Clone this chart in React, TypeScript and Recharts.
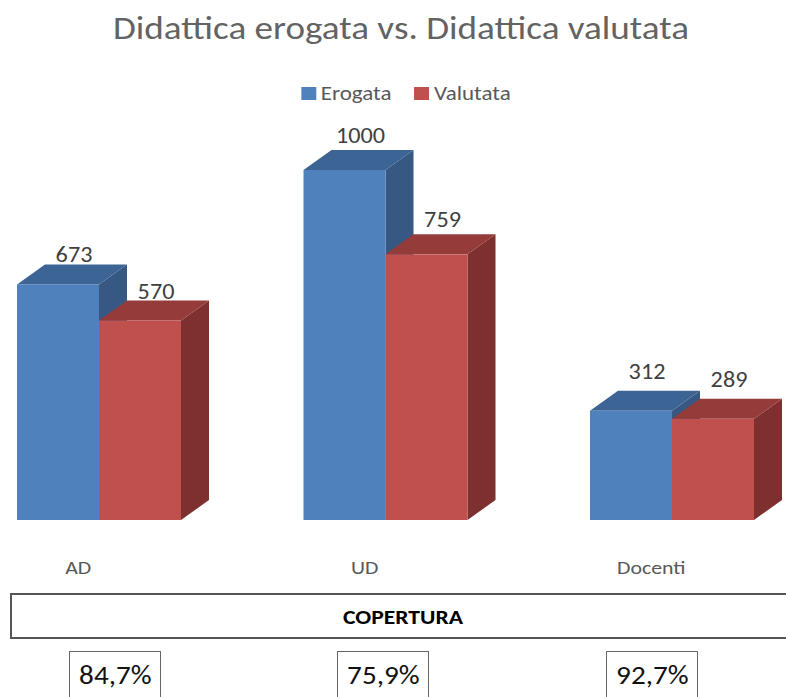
import React from "react";
import { BarChart, Bar, XAxis, YAxis, Legend, LabelList } from "recharts";

const categories = ["AD", "UD", "Docenti"];
const erogata = [673, 1000, 312];
const valutata = [570, 759, 289];
const copertura = ["84,7%", "75,9%", "92,7%"];

const FONT = "Carlito, Lato, sans-serif";
const DEPTH_X = 28;
const DEPTH_Y = 20;
// the source image is a little wider than its fonts
const STRETCH = 1.15;

const data = categories.map((name, i) => ({
  name,
  erogata: erogata[i],
  valutata: valutata[i],
}));

const palette = {
  erogata: { front: "#4F81BD", top: "#3C6595", side: "#365882" },
  valutata: { front: "#C0504D", top: "#953B39", side: "#7D302E" },
};

const make3D = (c: { front: string; top: string; side: string }) => (props: any) => {
  const { x, y, width, height } = props;
  if (height == null || width == null) return null;
  const top = `${x},${y} ${x + width},${y} ${x + width + DEPTH_X},${y - DEPTH_Y} ${x + DEPTH_X},${y - DEPTH_Y}`;
  const side = `${x + width},${y} ${x + width + DEPTH_X},${y - DEPTH_Y} ${x + width + DEPTH_X},${y + height - DEPTH_Y} ${x + width},${y + height}`;
  return (
    <g>
      <polygon points={side} fill={c.side} />
      <polygon points={top} fill={c.top} />
      <rect x={x} y={y} width={width} height={height} fill={c.front} />
    </g>
  );
};

const valueLabel = (props: any) => {
  const { x, y, width, value, index } = props;
  // perspective: labels further right sit a bit higher
  const lift = 22 + 5 * (index ?? 0);
  return (
    <text
      transform={`translate(${x + width / 2 + DEPTH_X / 2 + 2},${y - lift}) scale(1.1,1)`}
      textAnchor="middle"
      fontSize={22}
      fontFamily={FONT}
      fill="#404040"
    >
      {value}
    </text>
  );
};

const CategoryTick = (props: any) => {
  const { x, payload } = props;
  return (
    <text
      transform={`translate(${x - 21},574) scale(${STRETCH},1)`}
      textAnchor="middle"
      fontSize={19}
      fontFamily={FONT}
      fill="#595959"
    >
      {payload.value}
    </text>
  );
};

const LegendContent = (props: any) => {
  const { payload } = props;
  return (
    <div
      style={{
        display: "flex",
        justifyContent: "center",
        fontFamily: FONT,
        fontSize: 20,
        color: "#595959",
        transform: `scaleX(${STRETCH})`,
      }}
    >
      {(payload || []).map((p: any) => (
        <div key={p.value} style={{ display: "flex", alignItems: "center", margin: "0 10px" }}>
          <span style={{ width: 13, height: 13, background: p.color, marginRight: 4, display: "inline-block" }} />
          <span>{p.value}</span>
        </div>
      ))}
    </div>
  );
};

export default function App() {
  return (
    <div style={{ position: "absolute", left: 0, top: 0, width: 786, height: 697, overflow: "hidden", background: "#fff" }}>
      <div
        style={{
          position: "absolute",
          left: 1,
          top: 9,
          width: 800,
          textAlign: "center",
          fontFamily: FONT,
          fontSize: 32,
          color: "#636363",
          transform: "scaleX(1.16)",
        }}
      >
        Didattica erogata vs. Didattica valutata
      </div>
      <div style={{ position: "absolute", left: -44, top: 0 }}>
        <BarChart
          width={900}
          height={697}
          data={data}
          margin={{ top: 170, right: 40.5, bottom: 147, left: 0 }}
          barSize={82}
          barGap={0}
        >
          <XAxis dataKey="name" axisLine={false} tickLine={false} height={30} tick={<CategoryTick />} />
          <YAxis hide domain={[0, 1000]} />
          <Legend
            layout="horizontal"
            verticalAlign="middle"
            align="center"
            content={<LegendContent />}
            wrapperStyle={{ top: 81, left: 0, width: 900 }}
          />
          <Bar dataKey="erogata" name="Erogata" fill={palette.erogata.front} shape={make3D(palette.erogata)} isAnimationActive={false}>
            <LabelList dataKey="erogata" content={valueLabel} />
          </Bar>
          <Bar dataKey="valutata" name="Valutata" fill={palette.valutata.front} shape={make3D(palette.valutata)} isAnimationActive={false}>
            <LabelList dataKey="valutata" content={valueLabel} />
          </Bar>
        </BarChart>
      </div>
      <div
        style={{
          position: "absolute",
          left: 10,
          top: 593,
          width: 800,
          height: 42,
          border: "2px solid #555",
          boxSizing: "content-box",
        }}
      />
      <div
        style={{
          position: "absolute",
          left: 303,
          top: 605,
          width: 200,
          textAlign: "center",
          fontFamily: FONT,
          fontWeight: "bold",
          fontSize: 20,
          color: "#000",
          transform: "scaleX(1.18)",
        }}
      >
        COPERTURA
      </div>
      {copertura.map((c, i) => {
        const lefts = [69, 337, 606];
        return (
          <div
            key={c}
            style={{
              position: "absolute",
              left: lefts[i],
              top: 651,
              width: 90,
              height: 50,
              border: "1.5px solid #666",
              fontFamily: FONT,
              fontSize: 26,
              color: "#111",
              textAlign: "center",
              lineHeight: "46px",
            }}
          >
            <span style={{ display: "inline-block", transform: "scaleX(1.12)" }}>{c}</span>
          </div>
        );
      })}
    </div>
  );
}
